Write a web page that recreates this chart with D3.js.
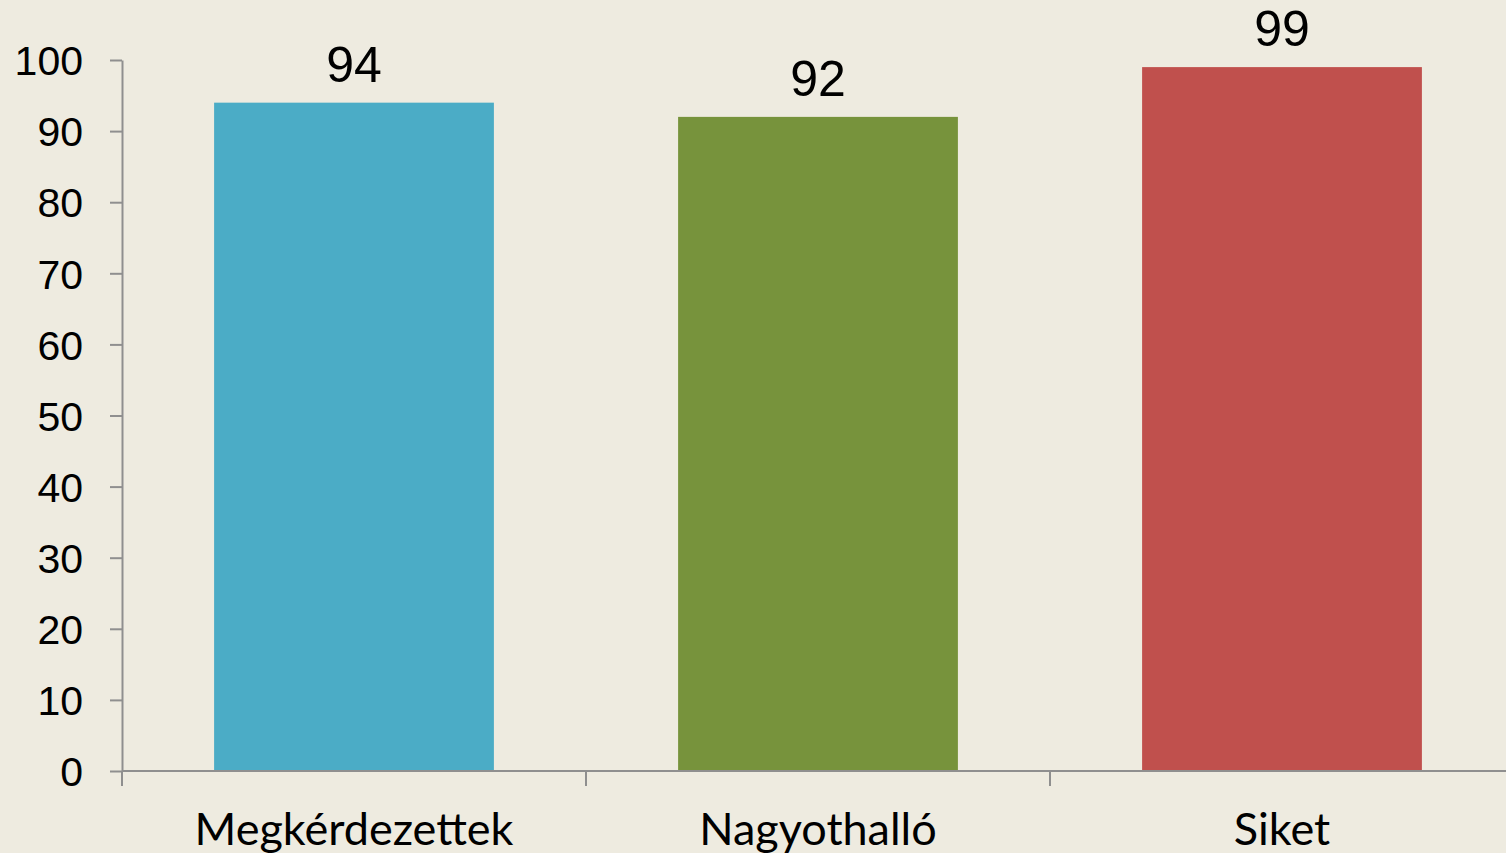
<!DOCTYPE html>
<html>
<head>
<meta charset="utf-8">
<script src="https://cdn.jsdelivr.net/npm/d3@7"></script>
<style>
  html, body { margin: 0; padding: 0; background: #EEEBE0; }
  svg { display: block; }
</style>
</head>
<body>
<div id="chart"></div>
<script>
var categories = ['Megkérdezettek', 'Nagyothalló', 'Siket']
var values = [94, 92, 99]
var colors = ['#4BACC6', '#77933C', '#C0504D']
var yTicks = [0, 10, 20, 30, 40, 50, 60, 70, 80, 90, 100]

var width = 1506, height = 853
var margin = {top: 60, right: -8, bottom: 82, left: 122}

var svg = d3.select('#chart').append('svg').attr('width', width).attr('height', height)
svg.append('rect').attr('width', width).attr('height', height).attr('fill', '#EEEBE0')

var x = d3.scaleBand().domain(categories).range([margin.left, width - margin.right]).padding(0)
var y = d3.scaleLinear().domain([0, 100]).range([height - margin.bottom, margin.top])

var barW = x.bandwidth() * 0.603
var axisColor = '#8F8F8F'

// bars
svg.selectAll('rect.bar')
  .data(values)
  .enter().append('rect')
  .attr('class', 'bar')
  .attr('x', function(d, i){ return x(categories[i]) + (x.bandwidth() - barW) / 2 })
  .attr('y', function(d){ return y(d) })
  .attr('width', barW)
  .attr('height', function(d){ return y(0) - y(d) })
  .attr('fill', function(d, i){ return colors[i] })

// value labels
svg.selectAll('text.val')
  .data(values)
  .enter().append('text')
  .attr('class', 'val')
  .attr('x', function(d, i){ return x(categories[i]) + x.bandwidth() / 2 })
  .attr('y', function(d){ return y(d) - 21 })
  .attr('text-anchor', 'middle')
  .style('font-family', '"Liberation Sans", Arial, sans-serif')
  .style('font-size', '50px')
  .style('fill', '#000')
  .text(function(d){ return d })

// y axis
var yAxis = svg.append('g')
  .attr('transform', 'translate(' + margin.left + ',0)')
  .call(d3.axisLeft(y).tickValues(yTicks).tickSize(12).tickPadding(27).tickSizeOuter(0))
yAxis.select('.domain').attr('stroke', axisColor).attr('stroke-width', 2)
yAxis.selectAll('.tick line').attr('stroke', axisColor).attr('stroke-width', 2)
yAxis.selectAll('.tick text')
  .attr('dy', '0.36em')
  .style('font-family', '"Liberation Sans", Arial, sans-serif')
  .style('font-size', '41px')
  .style('fill', '#000')

// x axis
var xAxis = svg.append('g')
  .attr('transform', 'translate(0,' + y(0) + ')')
xAxis.append('line')
  .attr('x1', margin.left).attr('x2', width)
  .attr('y1', 0).attr('y2', 0)
  .attr('stroke', axisColor).attr('stroke-width', 2)
xAxis.selectAll('line.sep')
  .data(categories)
  .enter().append('line')
  .attr('class', 'sep')
  .attr('x1', function(d){ return x(d) }).attr('x2', function(d){ return x(d) })
  .attr('y1', 0).attr('y2', 15)
  .attr('stroke', axisColor).attr('stroke-width', 2)
xAxis.selectAll('text.cat')
  .data(categories)
  .enter().append('text')
  .attr('class', 'cat')
  .attr('x', function(d){ return x(d) + x.bandwidth() / 2 })
  .attr('y', 74)
  .attr('text-anchor', 'middle')
  .style('font-family', 'Lato, "Open Sans", sans-serif')
  .style('font-size', '45px')
  .style('fill', '#000')
  .text(function(d){ return d })
</script>
</body>
</html>
